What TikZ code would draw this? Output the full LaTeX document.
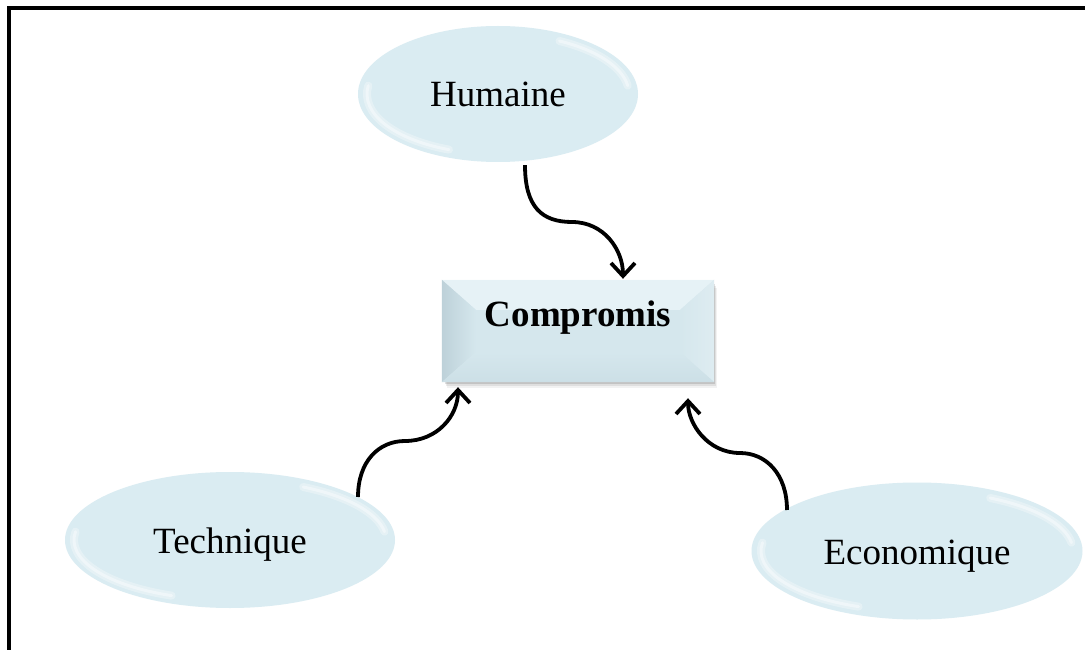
\documentclass[tikz,border=0pt]{standalone}
\usepackage{fontspec}
\setmainfont{Liberation Serif}
\usetikzlibrary{arrows.meta,shapes.geometric,calc}

\definecolor{bubblefill}{HTML}{DAECF2}
\definecolor{faceblue}{HTML}{D5E7ED}
\definecolor{bevtop}{HTML}{E6F2F6}
\definecolor{bevleft}{HTML}{BDD1D9}
\definecolor{bevright}{HTML}{DEECF1}
\definecolor{bevbottom}{HTML}{CCDFE6}

\tikzset{
  bubble/.style={ellipse, fill=bubblefill, inner sep=0pt,
    text height=30pt, text depth=4pt,
    font=\fontsize{37}{44}\selectfont},
  rimsoft/.style={white, opacity=0.3, line width=8pt, line cap=round},
  rim/.style={white, opacity=0.4, line width=3pt, line cap=round},
  bevelbox/.style={rectangle, fill=faceblue, inner sep=0pt,
    minimum width=272pt, minimum height=102pt},
  boxtext/.style={font=\fontsize{37}{44}\selectfont\bfseries, inner sep=0pt},
  link/.style={line width=3.8pt, -{Straight Barb[length=13pt,width=24pt,line width=3.8pt]}}
}

\begin{document}
\begin{tikzpicture}[x=1pt,y=-1pt]
\useasboundingbox (0,0) rectangle (1085,650);
\fill[white] (0,0) rectangle (1085,650);

% outer frame, running off the right and bottom edges
\begin{scope}
  \clip (0,0) rectangle (1085,650);
  \draw[line width=4pt] (9,8) rectangle (1100,680);
\end{scope}

% the three factors
\node[bubble, minimum width=280pt, minimum height=136pt] (hum) at (498,94) {Humaine};
\node[bubble, minimum width=330pt, minimum height=136pt] (tech) at (230,540) {Technique};
\node[bubble, minimum width=331pt, minimum height=137pt] (eco) at (917,551) {Economique};

% glossy rims inside the bubbles
\foreach \n/\rx/\ry in {hum/131/60, tech/156/60, eco/156/60}{
  \foreach \st in {rimsoft, rim}{
    \draw[\st] ($(\n.center)+({\rx*cos(188)},{\ry*sin(188)})$)
       arc[start angle=188, end angle=112, x radius=\rx, y radius=\ry];
    \draw[\st] ($(\n.center)+({\rx*cos(-62)},{\ry*sin(-62)})$)
       arc[start angle=-62, end angle=-8, x radius=\rx, y radius=\ry];
  }
}

% bevelled result box with a soft shadow
\foreach \d/\o in {6/0.05,4/0.08,2/0.12}{
  \fill[black, opacity=\o] (444+\d/2,282+\d) rectangle (714+\d/2,382+\d);
}
\node[bevelbox] (comp) at (578,331) {};
\coordinate (inw) at ($(comp.north west)+(34,30)$);
\coordinate (ine) at ($(comp.north east)+(-34,30)$);
\coordinate (isw) at ($(comp.south west)+(34,-30)$);
\coordinate (ise) at ($(comp.south east)+(-34,-30)$);
\fill[bevtop] (comp.north west) -- (comp.north east) -- (ine) -- (inw) -- cycle;
\shade[left color=bevleft, right color=faceblue] (comp.north west) -- (inw) -- (isw) -- (comp.south west) -- cycle;
\shade[left color=faceblue, right color=bevright] (comp.north east) -- (ine) -- (ise) -- (comp.south east) -- cycle;
\shade[top color=faceblue, bottom color=bevbottom] (comp.south west) -- (isw) -- (ise) -- (comp.south east) -- cycle;
\draw[white, opacity=0.5, line width=0.8pt] (comp.north west) -- (comp.north east);
\node[boxtext] (ct) at (578,318) {Compromis};

% connectors
\coordinate (hs) at ($(hum.south)+(27,3)$);
\coordinate (hm) at (572,222);
\coordinate (ts) at (358,497);
\coordinate (tm) at (405,441);
\coordinate (es) at (787,510);
\coordinate (em) at (740,453);

\draw[link] (hs) .. controls ($(hs)+(0,42)$) and ($(hm)+(-30,0)$) .. (hm)
  .. controls ($(hm)+(32,0)$) and ($([xshift=45pt]comp.north)+(0,-30)$) .. ([xshift=45pt,yshift=1pt]comp.north);
\draw[link] (ts) .. controls ($(ts)+(0,-36)$) and ($(tm)+(-26,0)$) .. (tm)
  .. controls ($(tm)+(32,0)$) and ($([xshift=-120pt]comp.south)+(0,34)$) .. ([xshift=-120pt,yshift=-5pt]comp.south);
\draw[link] (es) .. controls ($(es)+(0,-36)$) and ($(em)+(26,0)$) .. (em)
  .. controls ($(em)+(-32,0)$) and ($([xshift=110pt]comp.south)+(0,42)$) .. ([xshift=110pt,yshift=-16pt]comp.south);
\end{tikzpicture}
\end{document}
